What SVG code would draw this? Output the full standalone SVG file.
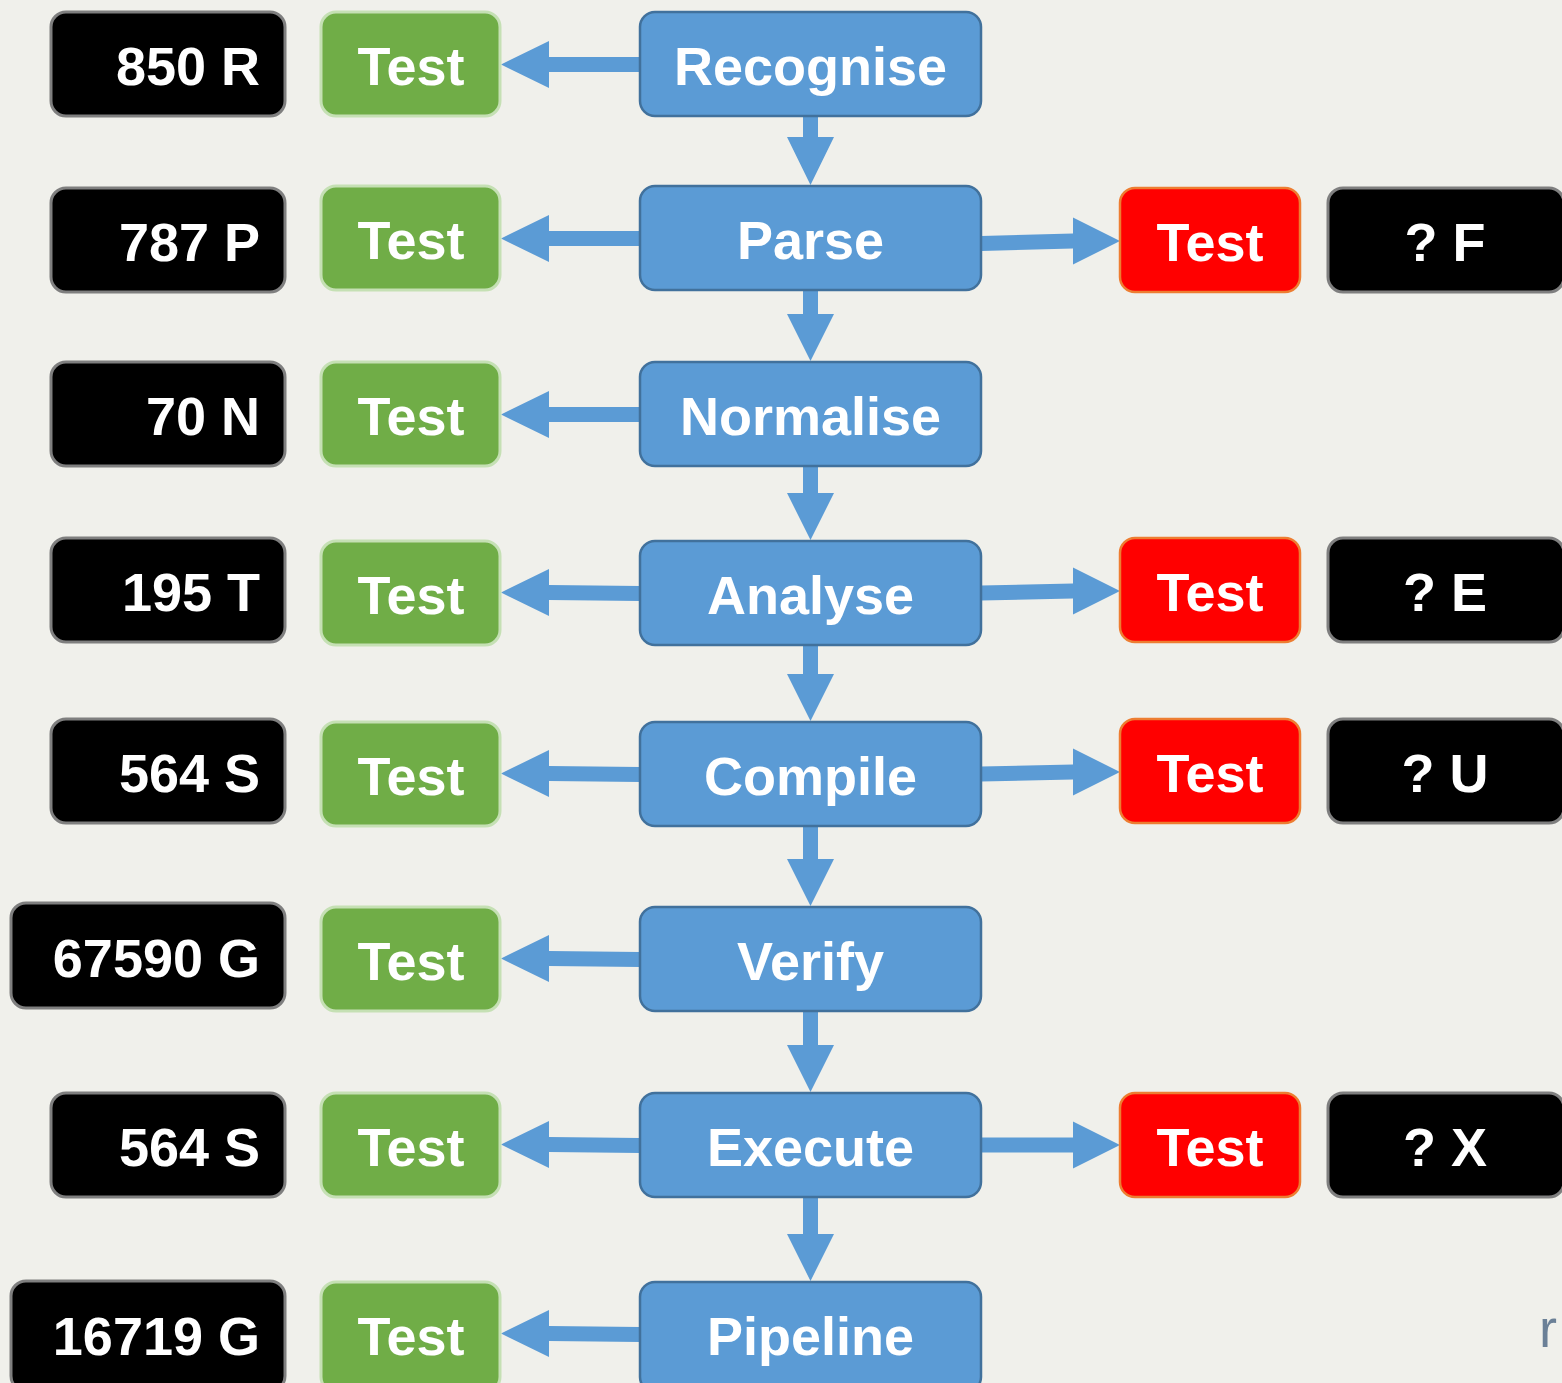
<svg xmlns="http://www.w3.org/2000/svg" width="1562" height="1383" viewBox="0 0 1562 1383">
<style>
.bg{fill:#f0f0eb}
.blk rect{fill:#000;stroke:#7f7f7f;stroke-width:3}
.grn rect{fill:#70ad47;stroke:#c5e0b4;stroke-width:3}
.blu rect{fill:#5b9bd5;stroke:#41719c;stroke-width:2.5}
.red rect{fill:#ff0000;stroke:#ed7d31;stroke-width:2.5}
text{font-family:"Liberation Sans",Arial,sans-serif;font-weight:bold;font-size:54px;fill:#fff}
.c{text-anchor:middle}
.r{text-anchor:end}
.arrow polygon{fill:#5b9bd5}
.mark{font-weight:normal;fill:#6b8097;font-size:54px}
</style>
<rect class="bg" x="0" y="0" width="1562" height="1383"/>

<g id="connectors" class="arrow">
  <!-- left arrows -->
  <polygon points="640,57 549,57 549,41 501,64.5 549,88 549,72 640,72"/>
  <polygon points="640,231 549,231 549,215 501,238.5 549,262 549,246 640,246"/>
  <polygon points="640,407 549,407 549,391 501,414.5 549,438 549,422 640,422"/>
  <polygon points="640,586 549,585 549,569 501,592.5 549,616 549,600 640,601"/>
  <polygon points="640,767 549,766 549,750 501,773.5 549,797 549,781 640,782"/>
  <polygon points="640,952 549,951 549,935 501,958.5 549,982 549,966 640,967"/>
  <polygon points="640,1138 549,1137 549,1121 501,1144.5 549,1168 549,1152 640,1153"/>
  <polygon points="640,1327 549,1326 549,1310 501,1333.5 549,1357 549,1341 640,1342"/>
  <!-- down arrows -->
  <polygon points="803,116 818,116 818,137 834,137 810.5,185 787,137 803,137"/>
  <polygon points="803,290 818,290 818,314 834,314 810.5,361 787,314 803,314"/>
  <polygon points="803,466 818,466 818,493 834,493 810.5,540 787,493 803,493"/>
  <polygon points="803,645 818,645 818,674 834,674 810.5,721 787,674 803,674"/>
  <polygon points="803,826 818,826 818,859 834,859 810.5,906 787,859 803,859"/>
  <polygon points="803,1011 818,1011 818,1045 834,1045 810.5,1092 787,1045 803,1045"/>
  <polygon points="803,1197 818,1197 818,1234 834,1234 810.5,1281 787,1234 803,1234"/>
  <!-- right arrows -->
  <polygon points="981,236 1073,233.5 1073,217.5 1120,241 1073,264.5 1073,248.5 981,251"/>
  <polygon points="981,585.5 1073,583.5 1073,567.5 1120,591 1073,614.5 1073,598.5 981,600.5"/>
  <polygon points="981,766.5 1073,764.5 1073,748.5 1120,772 1073,795.5 1073,779.5 981,781.5"/>
  <polygon points="981,1137.5 1073,1137.5 1073,1121.5 1120,1145 1073,1168.5 1073,1152.5 981,1152.5"/>
</g>

<!-- Row 1 -->
<g id="n850R" class="blk"><rect x="51" y="12" width="234" height="104" rx="15"/><text class="r" x="260" y="85">850 R</text></g>
<g id="test1" class="grn"><rect x="321" y="12" width="179" height="104" rx="15"/><text class="c" x="411" y="85">Test</text></g>
<g id="recognise" class="blu"><rect x="640" y="12" width="341" height="104" rx="15"/><text class="c" x="810.5" y="85">Recognise</text></g>

<!-- Row 2 -->
<g id="n787P" class="blk"><rect x="51" y="188" width="234" height="104" rx="15"/><text class="r" x="260" y="261">787 P</text></g>
<g id="test2" class="grn"><rect x="321" y="186" width="179" height="104" rx="15"/><text class="c" x="411" y="259">Test</text></g>
<g id="parse" class="blu"><rect x="640" y="186" width="341" height="104" rx="15"/><text class="c" x="810.5" y="259">Parse</text></g>
<g id="testF" class="red"><rect x="1120" y="188" width="180" height="104" rx="15"/><text class="c" x="1210" y="261">Test</text></g>
<g id="qF" class="blk"><rect x="1328" y="188" width="236" height="104" rx="15"/><text class="c" x="1445" y="261">? F</text></g>

<!-- Row 3 -->
<g id="n70N" class="blk"><rect x="51" y="362" width="234" height="104" rx="15"/><text class="r" x="260" y="435">70 N</text></g>
<g id="test3" class="grn"><rect x="321" y="362" width="179" height="104" rx="15"/><text class="c" x="411" y="435">Test</text></g>
<g id="normalise" class="blu"><rect x="640" y="362" width="341" height="104" rx="15"/><text class="c" x="810.5" y="435">Normalise</text></g>

<!-- Row 4 -->
<g id="n195T" class="blk"><rect x="51" y="538" width="234" height="104" rx="15"/><text class="r" x="260" y="611">195 T</text></g>
<g id="test4" class="grn"><rect x="321" y="541" width="179" height="104" rx="15"/><text class="c" x="411" y="614">Test</text></g>
<g id="analyse" class="blu"><rect x="640" y="541" width="341" height="104" rx="15"/><text class="c" x="810.5" y="614">Analyse</text></g>
<g id="testE" class="red"><rect x="1120" y="538" width="180" height="104" rx="15"/><text class="c" x="1210" y="611">Test</text></g>
<g id="qE" class="blk"><rect x="1328" y="538" width="236" height="104" rx="15"/><text class="c" x="1445" y="611">? E</text></g>

<!-- Row 5 -->
<g id="n564S1" class="blk"><rect x="51" y="719" width="234" height="104" rx="15"/><text class="r" x="260" y="792">564 S</text></g>
<g id="test5" class="grn"><rect x="321" y="722" width="179" height="104" rx="15"/><text class="c" x="411" y="795">Test</text></g>
<g id="compile" class="blu"><rect x="640" y="722" width="341" height="104" rx="15"/><text class="c" x="810.5" y="795">Compile</text></g>
<g id="testU" class="red"><rect x="1120" y="719" width="180" height="104" rx="15"/><text class="c" x="1210" y="792">Test</text></g>
<g id="qU" class="blk"><rect x="1328" y="719" width="236" height="104" rx="15"/><text class="c" x="1445" y="792">? U</text></g>

<!-- Row 6 -->
<g id="n67590G" class="blk"><rect x="11" y="903" width="274" height="105" rx="15"/><text class="r" x="260" y="977">67590 G</text></g>
<g id="test6" class="grn"><rect x="321" y="907" width="179" height="104" rx="15"/><text class="c" x="411" y="980">Test</text></g>
<g id="verify" class="blu"><rect x="640" y="907" width="341" height="104" rx="15"/><text class="c" x="810.5" y="980">Verify</text></g>

<!-- Row 7 -->
<g id="n564S2" class="blk"><rect x="51" y="1093" width="234" height="104" rx="15"/><text class="r" x="260" y="1166">564 S</text></g>
<g id="test7" class="grn"><rect x="321" y="1093" width="179" height="104" rx="15"/><text class="c" x="411" y="1166">Test</text></g>
<g id="execute" class="blu"><rect x="640" y="1093" width="341" height="104" rx="15"/><text class="c" x="810.5" y="1166">Execute</text></g>
<g id="testX" class="red"><rect x="1120" y="1093" width="180" height="104" rx="15"/><text class="c" x="1210" y="1166">Test</text></g>
<g id="qX" class="blk"><rect x="1328" y="1093" width="236" height="104" rx="15"/><text class="c" x="1445" y="1166">? X</text></g>

<!-- Row 8 -->
<g id="n16719G" class="blk"><rect x="11" y="1281" width="274" height="110" rx="15"/><text class="r" x="260" y="1355">16719 G</text></g>
<g id="test8" class="grn"><rect x="321" y="1282" width="179" height="110" rx="15"/><text class="c" x="411" y="1355">Test</text></g>
<g id="pipeline" class="blu"><rect x="640" y="1282" width="341" height="110" rx="15"/><text class="c" x="810.5" y="1355">Pipeline</text></g>

<text class="mark" x="1539" y="1347">r</text>
</svg>
